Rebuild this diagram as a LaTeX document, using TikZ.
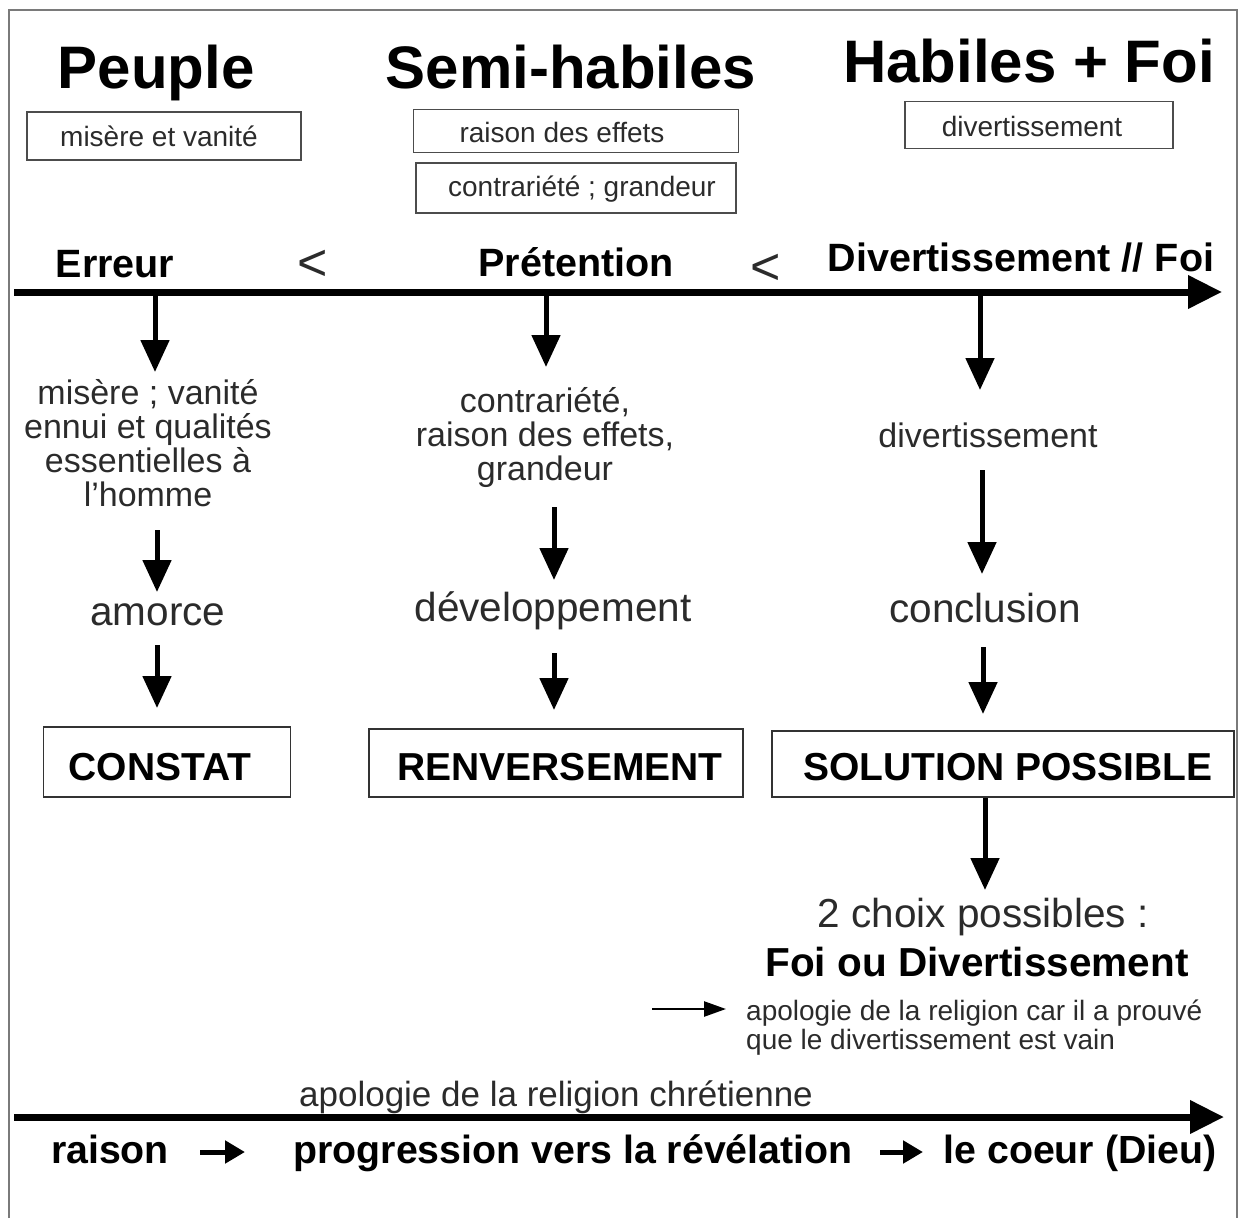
\documentclass[tikz,border=0pt]{standalone}
\usepackage{fontspec}
\setmainfont{Liberation Sans}
\usetikzlibrary{arrows.meta}
\definecolor{txt}{HTML}{2B2B2B}
\definecolor{frame}{HTML}{7A7A7A}
\begin{document}
\begin{tikzpicture}[x=1pt,y=-1pt,
  title/.style={inner sep=0pt, anchor=base, font=\fontsize{60}{62}\selectfont\bfseries},
  axislabel/.style={inner sep=0pt, anchor=base, font=\fontsize{39.5}{42}\selectfont\bfseries},
  ltsign/.style={inner sep=0pt, font=\fontsize{52}{56}\selectfont, text=txt},
  tagbox/.style={draw=black!70, line width=1.6pt, inner sep=0pt},
  tagtext/.style={inner sep=0pt, anchor=base, text=txt, font=\fontsize{28}{30}\selectfont},
  coltext/.style={inner sep=0pt, anchor=base, align=center, text=txt, font=\fontsize{34}{34}\selectfont},
  stagetext/.style={inner sep=0pt, anchor=base, text=txt, font=\fontsize{40.5}{44}\selectfont},
  stagebox/.style={draw=black!80, line width=1.8pt, inner sep=0pt},
  stagelabel/.style={inner sep=0pt, anchor=base, font=\fontsize{39}{42}\selectfont\bfseries},
  axisarrow/.style={line width=7pt, -{Triangle[length=34pt,width=32pt]}},
  varrow/.style={line width=5pt, -{Triangle[length=32pt,width=28pt]}},
  harrow/.style={line width=5pt, -{Triangle[length=20pt,width=22pt]}},
  thinarrow/.style={line width=2.5pt, -{Triangle[length=22pt,width=15pt]}},
  boldtext/.style={inner sep=0pt, anchor=base, font=\fontsize{39.3}{42}\selectfont\bfseries}
]
\useasboundingbox (0,0) rectangle (1239,1218);
% frame
\draw[frame, line width=2pt] (8.5,1218) -- (8.5,10) -- (1237,10) -- (1237,1218);

% titles
\node[title] (peuple) at (156,88) {Peuple};
\node[title] (semi) at (571,88) {Semi-habiles};
\node[title] (habiles) at (1029,82) {Habiles + Foi};

% tag boxes
\node[tagbox, minimum width=274pt, minimum height=48pt] (tag1) at (164,136) {};
\node[tagtext] (tag1t) at (159,146) {misère et vanité};
\node[tagbox, minimum width=325pt, minimum height=43pt] (tag2) at (576,131) {};
\node[tagtext] (tag2t) at (562,142) {raison des effets};
\node[tagbox, minimum width=320pt, minimum height=50pt] (tag3) at (576,188) {};
\node[tagtext] (tag3t) at (582,196) {contrariété ; grandeur};
\node[tagbox, minimum width=268pt, minimum height=47pt] (tag4) at (1039,125) {};
\node[tagtext] (tag4t) at (1032,136) {divertissement};

% axis labels
\node[axislabel] (erreur) at (115,277) {Erreur};
\node[ltsign] (lt1) at (313,265) {<};
\node[axislabel] (pret) at (576,276) {Prétention};
\node[ltsign] (lt2) at (766,269) {<};
\node[axislabel] (divfoi) at (1021,271) {Divertissement // Foi};

% main axis
\coordinate (axL) at (14,292);
\coordinate (axR) at (1222,292);
\draw[axisarrow] (axL) -- (axR);

% left column
\coordinate (a1s) at (155,292);
\coordinate (a1e) at (155,372);
\draw[varrow] (a1s) -- (a1e);
\node[coltext] (col1) at (148,506) {misère ; vanité\\ennui et qualités\\essentielles à\\l’homme};
\coordinate (a2s) at (157,530);
\coordinate (a2e) at (157,592);
\draw[varrow] (a2s) -- (a2e);
\node[stagetext] (amorce) at (158,625) {amorce};
\coordinate (a3s) at (157,645);
\coordinate (a3e) at (157,708);
\draw[varrow] (a3s) -- (a3e);
\node[stagebox, minimum width=247pt, minimum height=70pt] (constat) at (167,762) {};
\node[stagelabel] (constatt) at (160,780) {CONSTAT};

% middle column
\coordinate (b1s) at (546,292);
\coordinate (b1e) at (546,367);
\draw[varrow] (b1s) -- (b1e);
\node[coltext] (col2) at (545,480) {contrariété,\\raison des effets,\\grandeur};
\coordinate (b2s) at (554,507);
\coordinate (b2e) at (554,580);
\draw[varrow] (b2s) -- (b2e);
\node[stagetext] (dev) at (553,621) {développement};
\coordinate (b3s) at (554,653);
\coordinate (b3e) at (554,710);
\draw[varrow] (b3s) -- (b3e);
\node[stagebox, minimum width=374pt, minimum height=68pt] (renv) at (556,763) {};
\node[stagelabel] (renvt) at (560,780) {RENVERSEMENT};

% right column
\coordinate (c1s) at (980,292);
\coordinate (c1e) at (980,390);
\draw[varrow] (c1s) -- (c1e);
\node[coltext] (col3) at (988,447) {divertissement};
\coordinate (c2s) at (982,470);
\coordinate (c2e) at (982,574);
\draw[varrow] (c2s) -- (c2e);
\node[stagetext] (concl) at (985,622) {conclusion};
\coordinate (c3s) at (983,647);
\coordinate (c3e) at (983,714);
\draw[varrow] (c3s) -- (c3e);
\node[stagebox, minimum width=462pt, minimum height=66pt] (sol) at (1003,764) {};
\node[stagelabel] (solt) at (1008,780) {SOLUTION POSSIBLE};
\coordinate (c4e) at (985,890);
\draw[varrow] (sol.south -| c4e) -- (c4e);
\node[stagetext] (choix) at (983,927) {2 choix possibles :};
\node[inner sep=0pt, anchor=base, font=\fontsize{40.5}{44}\selectfont\bfseries] (foiou) at (977,976) {Foi ou Divertissement};
\coordinate (d1s) at (652,1009);
\coordinate (d1e) at (726,1009);
\node[inner sep=0pt, anchor=base west, align=left, text=txt, font=\fontsize{28}{29}\selectfont] (apol) at (746,1049) {apologie de la religion car il a prouvé\\que le divertissement est vain};
\draw[thinarrow] (d1s) -- (d1e);

% bottom
\node[inner sep=0pt, anchor=base, text=txt, font=\fontsize{35}{38}\selectfont] (chret) at (556,1106) {apologie de la religion chrétienne};
\coordinate (bxL) at (14,1117);
\coordinate (bxR) at (1224,1117);
\draw[axisarrow] (bxL) -- (bxR);
\node[boldtext] (raison) at (110,1163) {raison};
\node[boldtext] (progr) at (573,1163) {progression vers la révélation};
\node[boldtext] (coeur) at (1080,1163) {le coeur (Dieu)};
\coordinate (e1s) at (200,1152);
\coordinate (e1e) at (245,1152);
\coordinate (e2s) at (880,1152);
\coordinate (e2e) at (923,1152);
\draw[harrow] (e1s) -- (e1e);
\draw[harrow] (e2s) -- (e2e);
\end{tikzpicture}
\end{document}
